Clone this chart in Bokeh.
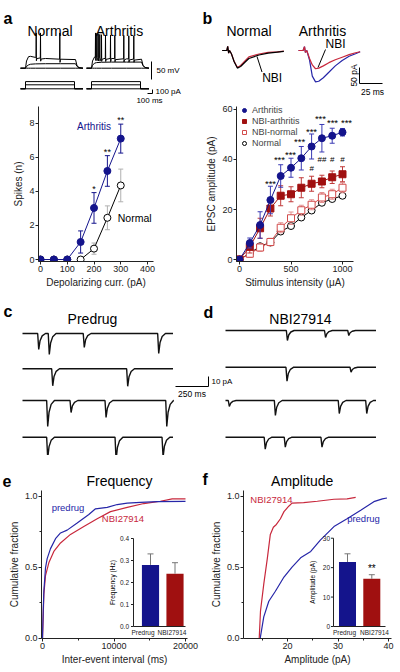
import numpy as np
from bokeh.plotting import figure
from bokeh.layouts import column, row
from bokeh.models import Range1d, Label, FixedTicker, NumeralTickFormatter, Legend, LegendItem
from bokeh.core.properties import value
from bokeh.embed import file_html
from bokeh.resources import INLINE

FONT = "Liberation Sans"
NAVY = "#14148c"
BLUE = "#2626a8"
DRED = "#a01010"
RED = "#c8283c"
LRED = "#d24b4b"

# ======================= DATA =======================
# (a) spikes vs depolarizing current
a_curr = [0, 50, 100, 150, 200, 250, 300]
a_arth = [0, 0, 0, 1.03, 3.03, 5.2, 7.1]
a_arth_err = [0, 0, 0, 0.65, 0.9, 0.9, 0.85]
a_norm = [0, 0, 0, 0, 0.64, 2.45, 4.35]
a_norm_err = [0, 0, 0, 0, 0.33, 0.7, 0.96]
a_sig_x = [200, 250, 300]
a_sig_txt = ["*", "**", "**"]
a_sig_y = [4.15, 6.3, 8.2]
a_xticks = [0, 100, 200, 300, 400]
a_yticks = [0, 2, 4, 6, 8]

# (a) example voltage / current traces (ms, mV, pA)
a_sweep_t = [-100, 0, 20, 60, 100, 200, 400, 700, 1000, 1030, 1070, 1150]
a_rest = [-65, -65, -65, -65, -65, -65, -65, -65, -65, -65, -65, -65]
a_norm_low = [-65, -65, -60, -56, -54, -53, -52.5, -52.5, -52.5, -60, -64, -65]
a_norm_high = [-65, -65, -45, -33, -32, -35, -38, -40, -41, -58, -63, -65]
a_arth_low = [-65, -65, -57, -51, -49.5, -48.5, -48, -48, -48, -58, -63, -65]
a_arth_high = [-65, -65, -45, -34, -35, -37, -38, -39, -40, -57, -63, -65]
a_norm_spk_t = [214, 300, 686]
a_norm_spk_v = [33, 33, 33]
a_arth_spk_t = [80, 106, 134, 166, 200, 280, 380, 466, 646, 746, 846]
a_arth_spk_v = [33, 32, 31, 29, 28, 27, 27, 26, 26, 25, 25]
a_step_t = [-100, 0, 0, 980, 980, 1150]
a_step_amp = [0, 100, 180]
a_bar_mv, a_bar_ms, a_bar_pa = 50, 100, 100

# (b) EPSC amplitude vs stimulus intensity
b_stim = [0, 100, 200, 300, 400, 500, 600, 700, 800, 900, 1000]
b_arth = [0, 6.6, 13.8, 23.8, 33.4, 36.7, 40.5, 45.2, 48.5, 49.5, 50.9]
b_arth_err = [0, 2, 5.3, 5.5, 4.5, 3.8, 4.7, 5, 5.5, 3, 1.5]
b_nbia = [0, 5.1, 12.5, 20.4, 25.5, 26.1, 28.7, 30.3, 31.2, 32.9, 34.1]
b_nbia_err = [0, 2.5, 4, 3, 4, 3, 4, 3, 2.5, 2.5, 3]
b_nbin = [0, 2.3, 4.8, 7.0, 12.7, 16.5, 19.7, 21.9, 24.8, 26.1, 28.7]
b_nbin_err = [0, 1.5, 1.5, 1.5, 2, 2.5, 2, 2, 2, 2, 2]
b_norm = [0, 2.5, 5.3, 6.8, 11.2, 13.4, 16.8, 19.6, 22.7, 24.2, 25.5]
b_norm_err = [0, 1, 1, 1, 1, 1, 1, 1, 1, 1, 1]
b_star_x = [301, 388, 495, 583, 699, 786, 903, 1039]
b_star_y = [30.2, 40.1, 42.0, 47.0, 51.2, 56.2, 54.6, 54.6]
b_hash_x = [700, 800, 900, 1000]
b_hash_txt = ["#", "##", "#", "#"]
b_hash_y = [36.3, 40.1, 40.1, 40.1]
b_xticks = [0, 500, 1000]
b_yticks = [0, 20, 40, 60]

# (b) example EPSCs (ms, pA)
b_norm_t = [0, 5, 6, 7, 8, 10, 13, 16.5, 20, 25, 29, 40, 50, 60, 67]
b_norm_i = [0, 0, 13, -8, 0, -10, -35, -55, -50, -36, -25, -14, -8, -5, -3]
b_norm_nbi_i = [0, 0, 13, -8, 0, -10, -34, -53, -47, -32, -20, -11, -6, -4, -2]
b_arth_t = [0, 5, 6.5, 7.5, 9, 12, 15, 18.5, 22, 27, 33, 40, 47.5, 55, 62, 67]
b_arth_i = [0, 0, 12, -6, 0, -30, -80, -98, -96, -85, -68, -48, -31, -18, -10, -4]
b_arth_nbi_i = [0, 0, 12, -6, 0, -25, -45, -57, -55, -48, -38, -29, -21, -13, -7, -4]
b_bar_pa, b_bar_ms = 50, 25

# (c) predrug sEPSC events: times (ms) and amplitudes (pA), one list per sweep
c1_t, c1_a = [119, 199, 464, 1028], [16, 21, 14, 20]
c2_t, c2_a = [225, 793], [17, 17.5]
c3_t, c3_a = [187, 364, 629, 1089], [26, 12, 17, 26]
c4_t, c4_a = [187, 705, 1061], [21, 23, 20]
# (d) NBI27914
d1_t, d1_a = [465, 754, 930], [10, 7, 5]
d2_t, d2_a = [462, 947], [14, 5]
d3_t, d3_a = [25, 374, 858, 1066], [6, 15, 13, 13]
d4_t, d4_a = [297, 449, 727], [12, 10, 10]
sweep_ms = 1140
cd_bar_ms, cd_bar_pa = 250, 10

# (e) inter-event interval CDF
e_pre_x = [0, 98, 190, 420, 653, 1120, 1820, 2520, 3450, 4850, 6480, 7410, 9050, 10450, 11850, 13700, 16040, 20000]
e_pre_y = [0, 0.19, 0.33, 0.495, 0.56, 0.63, 0.70, 0.74, 0.76, 0.81, 0.87, 0.91, 0.92, 0.94, 0.95, 0.955, 0.96, 0.962]
e_nbi_x = [0, 98, 190, 420, 885, 1585, 2520, 3915, 5780, 7650, 9510, 11850, 14170, 16500, 18140, 20000]
e_nbi_y = [0, 0.15, 0.31, 0.44, 0.53, 0.61, 0.67, 0.73, 0.785, 0.84, 0.89, 0.92, 0.947, 0.963, 0.98, 0.98]
e_bar_cats = ["Predrug", "NBI27914"]
e_bar_vals = [0.28, 0.24]
e_bar_err = [0.05, 0.05]
e_bar_ticks = [0, 0.1, 0.2, 0.3, 0.4]

# (f) amplitude CDF
f_pre_x = [14.6, 15.3, 16.3, 17.6, 19.3, 20.9, 22.6, 24.6, 26.5, 29.2, 31.8, 34.5, 37.1, 38.8, 39.7]
f_pre_y = [0, 0.15, 0.26, 0.33, 0.43, 0.50, 0.565, 0.61, 0.69, 0.785, 0.84, 0.90, 0.96, 0.98, 0.986]
f_nbi_x = [14.4, 14.65, 15.3, 16.0, 16.6, 17.2, 17.8, 18.6, 19.3, 20.3, 20.9, 23.2, 25.9, 29.2, 31.8, 33.5]
f_nbi_y = [0, 0.19, 0.38, 0.56, 0.73, 0.78, 0.80, 0.84, 0.89, 0.93, 0.95, 0.953, 0.963, 0.977, 0.98, 0.99]
f_bar_cats = ["Predrug", "NBI27914"]
f_bar_vals = [21.9, 16.2]
f_bar_err = [2.8, 1.4]
f_bar_ticks = [0, 10, 20, 30]


# ======================= HELPERS =======================
def lin_x(lo_px, hi_px, ref_px, ref_val, ppu):
    return (ref_val + (lo_px - ref_px) / ppu, ref_val + (hi_px - ref_px) / ppu)


def lin_y(top_px, bot_px, ref_px, ref_val, ppu):
    return (ref_val - (bot_px - ref_px) / ppu, ref_val + (ref_px - top_px) / ppu)


class PM:
    """page-pixel -> data converter for one frame"""
    def __init__(self, fl, ft, fr, fb, xr, yr):
        self.fl, self.ft, self.fr, self.fb, self.xr, self.yr = fl, ft, fr, fb, xr, yr

    def x(self, px):
        return self.xr[0] + (px - self.fl) * (self.xr[1] - self.xr[0]) / (self.fr - self.fl)

    def y(self, py):
        return self.yr[1] - (py - self.ft) * (self.yr[1] - self.yr[0]) / (self.fb - self.ft)


def bare(w, h, xr, yr):
    p = figure(width=w, height=h, x_range=Range1d(*xr), y_range=Range1d(*yr),
               toolbar_location=None, output_backend="svg", title=None,
               x_axis_location=None, y_axis_location=None, min_border=0)
    p.outline_line_color = None
    p.grid.visible = False
    return p


def chart(w, h, xr, yr, left, right, top, bottom):
    p = figure(width=w, height=h, x_range=Range1d(*xr), y_range=Range1d(*yr),
               toolbar_location=None, output_backend="svg", title=None,
               min_border_left=left, min_border_right=right,
               min_border_top=top, min_border_bottom=bottom)
    p.outline_line_color = None
    p.grid.visible = False
    for ax in p.axis:
        ax.axis_line_color = "#222222"
        ax.axis_line_width = 1
        ax.major_tick_line_color = "#222222"
        ax.minor_tick_line_color = "#222222"
        ax.major_tick_out = 3
        ax.major_tick_in = 0
        ax.minor_tick_out = 2
        ax.minor_tick_in = 0
        ax.major_label_text_font = FONT
        ax.major_label_text_font_size = "9px"
        ax.major_label_text_color = "#222222"
        ax.major_label_standoff = 1
        ax.axis_label_text_font = FONT
        ax.axis_label_text_font_size = "10px"
        ax.axis_label_text_font_style = "normal"
        ax.axis_label_text_color = "#222222"
        ax.axis_label_standoff = 2
    return p


def txt(p, x, y, s, size, color="black", align="center", baseline="middle",
        bold=False, angle=0.0, xr="default", yr="default"):
    p.add_layout(Label(x=x, y=y, text=s, text_font=FONT, text_font_size=f"{size}px",
                       text_color=color, text_align=align, text_baseline=baseline,
                       text_font_style="bold" if bold else "normal", angle=angle,
                       x_range_name=xr, y_range_name=yr))


def errbars(p, x, y, e, color, cap=5, both=True, **rn):
    xs = [xi for xi, ei in zip(x, e) if ei > 0]
    ys = [yi for yi, ei in zip(y, e) if ei > 0]
    hi = [yi + ei for yi, ei in zip(y, e) if ei > 0]
    lo = [yi - ei for yi, ei in zip(y, e) if ei > 0] if both else ys
    p.segment(x0=xs, y0=lo, x1=xs, y1=hi, line_color=color, line_width=1, **rn)
    p.scatter(x=xs, y=hi, marker="dash", size=cap, line_color=color, line_width=1, **rn)
    if both:
        p.scatter(x=xs, y=lo, marker="dash", size=cap, line_color=color, line_width=1, **rn)


def spiky(t, v, st, sv):
    pts = list(zip(t, v))
    for s, pk in zip(st, sv):
        b = float(np.interp(s, t, v))
        pts += [(s - 4, b), (s, pk), (s + 4, b - 9), (s + 12, b - 3)]
    pts.sort()
    return [q[0] for q in pts], [q[1] for q in pts]


def epsc(times, amps, length):
    xs, ys = [0], [0]
    for t, a in zip(times, amps):
        xs += [t - 4, t + 4, t + 14, t + 30, t + 55]
        ys += [0, -a, -0.45 * a, -0.15 * a, 0]
    xs.append(length)
    ys.append(0)
    return xs, ys


# ======================= TOP ROW: traces of a and b =======================
TT = (0, 0, 400, 104)
a_xr = lin_x(TT[0], TT[2], 25, 0, 0.05)
a_yr = lin_y(TT[1], TT[3], 67.7, -65, 1 / 2.78)
a_ir = lin_y(TT[1], TT[3], 88.3, 0, 1 / 25)
b_xr = lin_x(TT[0], TT[2], 221.7, 0, 0.92)
b_yr = lin_y(TT[1], TT[3], 50, 0, 0.32)
ptop = bare(400, 104, a_xr, a_yr)
ptop.extra_y_ranges = {"cur": Range1d(*a_ir), "by": Range1d(*b_yr)}
ptop.extra_x_ranges = {"bx": Range1d(*b_xr)}
pm = PM(*TT, a_xr, a_yr)
pmi = PM(*TT, a_xr, a_ir)
pmb = PM(*TT, b_xr, b_yr)
A_OFF = pm.x(91) - pm.x(25)
B_OFF = pmb.x(298) - pmb.x(221.7)
BR = dict(x_range_name="bx", y_range_name="by")

for off, low, high, st, sv in [(0, a_norm_low, a_norm_high, a_norm_spk_t, a_norm_spk_v),
                               (A_OFF, a_arth_low, a_arth_high, a_arth_spk_t, a_arth_spk_v)]:
    tt = [t + off for t in a_sweep_t]
    ptop.line(tt, a_rest, line_color="black", line_width=1)
    ptop.line(tt, low, line_color="black", line_width=1)
    hx, hy = spiky(a_sweep_t, high, st, sv)
    ptop.line([t + off for t in hx], hy, line_color="black", line_width=1)
    for amp in a_step_amp:
        ptop.line([t + off for t in a_step_t], [0, 0, amp, amp, 0, 0],
                  line_color="black", line_width=1, y_range_name="cur")

sbx = pm.x(151)
sby = pm.y(79)
ptop.line([sbx, sbx], [sby, sby + a_bar_mv], line_color="black", line_width=1)
txt(ptop, pm.x(156), sby + a_bar_mv / 2, "50 mV", 8, align="left")
cx = pm.x(152)
cy = pmi.y(93)
ptop.line([cx - a_bar_ms, cx, cx], [cy, cy, cy + a_bar_pa], line_color="black",
          line_width=1, y_range_name="cur")
txt(ptop, pm.x(155), pm.y(91), "100 pA", 8, align="left")
txt(ptop, pm.x(149), pm.y(99.5), "100 ms", 8)
txt(ptop, pm.x(49.5), pm.y(30), "Normal", 14, baseline="alphabetic")
txt(ptop, pm.x(119), pm.y(30), "Arthritis", 14, baseline="alphabetic")
txt(ptop, pm.x(3), pm.y(18), "a", 16, align="left", baseline="alphabetic", bold=True)

ptop.line(b_norm_t, b_norm_nbi_i, line_color=RED, line_width=1.2, **BR)
ptop.line(b_norm_t, b_norm_i, line_color="black", line_width=1.2, **BR)
ptop.line([t + B_OFF for t in b_arth_t], b_arth_i, line_color=BLUE, line_width=1.2, **BR)
ptop.line([t + B_OFF for t in b_arth_t], b_arth_nbi_i, line_color=RED, line_width=1.2, **BR)
bx = pmb.x(359)
by = pmb.y(83)
ptop.line([bx, bx, bx + b_bar_ms], [by + b_bar_pa, by, by], line_color="black", line_width=1, **BR)
txt(ptop, pmb.x(353), by + b_bar_pa / 2, "50 pA", 8.5, angle=np.pi / 2, xr="bx", yr="by")
txt(ptop, pmb.x(372), pmb.y(91), "25 ms", 8.5, xr="bx", yr="by")
ptop.line([pmb.x(256.5), pmb.x(261.5)], [pmb.y(56), pmb.y(71.5)], line_color="black", line_width=1, **BR)
txt(ptop, pmb.x(271.7), pmb.y(77), "NBI", 12, xr="bx", yr="by")
ptop.line([pmb.x(325), pmb.x(317.5)], [pmb.y(49), pmb.y(67)], line_color="black", line_width=1, **BR)
txt(ptop, pmb.x(335), pmb.y(43.3), "NBI", 12, xr="bx", yr="by")
txt(ptop, pmb.x(248.5), pmb.y(30), "Normal", 14, baseline="alphabetic", xr="bx", yr="by")
txt(ptop, pmb.x(322), pmb.y(30), "Arthritis", 14, baseline="alphabetic", xr="bx", yr="by")
txt(ptop, pmb.x(202), pmb.y(18), "b", 16, align="left", baseline="alphabetic", bold=True,
    xr="bx", yr="by")

# ======================= PANEL a: chart =======================
ac_xr = lin_x(38, 153, 40, 0, 0.2675)
ac_yr = lin_y(105, 262, 260, 0, 17.25)
pa = chart(200, 186, ac_xr, ac_yr, 38, 47, 1, 28)
pa.xaxis.ticker = FixedTicker(ticks=a_xticks, minor_ticks=[])
pa.yaxis.ticker = FixedTicker(ticks=a_yticks, minor_ticks=[])
pa.xaxis.axis_label = "Depolarizing curr. (pA)"
pa.yaxis.axis_label = "Spikes (n)"
errbars(pa, a_curr, a_norm, a_norm_err, "#b0b0b0", cap=5)
pa.line(a_curr[3:], a_norm[3:], line_color="black", line_width=1)
pa.scatter(a_curr, a_norm, marker="circle", size=7, fill_color="white", line_color="black")
errbars(pa, a_curr, a_arth, a_arth_err, NAVY, cap=5)
pa.line(a_curr, a_arth, line_color=NAVY, line_width=1)
pa.scatter(a_curr, a_arth, marker="circle", size=7, fill_color=NAVY, line_color=NAVY)
for xs, ys, s in zip(a_sig_x, a_sig_y, a_sig_txt):
    txt(pa, xs, ys, s, 9)
txt(pa, 200, 7.83, "Arthritis", 10, color=NAVY)
txt(pa, 352, 2.43, "Normal", 10.5)

# ======================= PANEL b: chart =======================
bc_xr = lin_x(236, 353, 239, 0, 0.103)
bc_yr = lin_y(106, 262, 260, 0, (260 - 109) / 60)
pb = chart(200, 186, bc_xr, bc_yr, 36, 47, 2, 28)
pb.xaxis.ticker = FixedTicker(ticks=b_xticks, minor_ticks=[])
pb.yaxis.ticker = FixedTicker(ticks=b_yticks, minor_ticks=[])
pb.xaxis.axis_label = "Stimulus intensity (\u03bcA)"
pb.yaxis.axis_label = "EPSC amplitude (pA)"

errbars(pb, b_stim, b_norm, b_norm_err, "#999999", cap=5)
pb.line(b_stim, b_norm, line_color="black", line_width=1)
r_norm = pb.scatter(b_stim, b_norm, marker="circle", size=7, fill_color="white", line_color="black")
errbars(pb, b_stim, b_nbin, b_nbin_err, "#e29090", cap=5)
pb.line(b_stim, b_nbin, line_color=LRED, line_width=1)
r_nbin = pb.scatter(b_stim, b_nbin, marker="square", size=7, fill_color="white", line_color=LRED)
errbars(pb, b_stim, b_nbia, b_nbia_err, "#c03a3a", cap=5)
pb.line(b_stim, b_nbia, line_color=DRED, line_width=1)
r_nbia = pb.scatter(b_stim, b_nbia, marker="square", size=7, fill_color=DRED, line_color=DRED)
errbars(pb, b_stim, b_arth, b_arth_err, "#3a3ab4", cap=5)
pb.line(b_stim, b_arth, line_color=NAVY, line_width=1)
r_arth = pb.scatter(b_stim, b_arth, marker="circle", size=7, fill_color=NAVY, line_color=NAVY)
for xs, ys in zip(b_star_x, b_star_y):
    txt(pb, xs, ys, "***", 9.5)
for xs, ys, s in zip(b_hash_x, b_hash_y, b_hash_txt):
    txt(pb, xs, ys, s, 8)
leg = Legend(items=[LegendItem(label="Arthritis", renderers=[r_arth]),
                    LegendItem(label="NBI-arthritis", renderers=[r_nbia]),
                    LegendItem(label="NBI-normal", renderers=[r_nbin]),
                    LegendItem(label="Normal", renderers=[r_norm])],
             location=(3, 156 - 43), label_text_font=FONT, label_text_font_size="9px",
             glyph_width=10, glyph_height=10, label_height=10, spacing=1,
             padding=0, margin=0, label_standoff=3, border_line_color=None,
             background_fill_alpha=0)
pb.add_layout(leg)

# ======================= PANELS c, d: traces =======================
CD = (0, 290, 400, 455)
cd_xr = lin_x(CD[0], CD[2], 22, 0, 0.132)
cd_yr = lin_y(CD[1], CD[3], 290, 0, 1.0)
pcd = bare(400, 165, cd_xr, cd_yr)
pmc = PM(*CD, cd_xr, cd_yr)
c_rows = [333, 368.3, 400, 436.7]
d_rows = [330, 366.7, 400, 436.7]
D_OFF = pmc.x(225) - pmc.x(22)
for (tt, aa), ry in zip([(c1_t, c1_a), (c2_t, c2_a), (c3_t, c3_a), (c4_t, c4_a)], c_rows):
    xs, ys = epsc(tt, aa, sweep_ms)
    base = pmc.y(ry)
    pcd.line(xs, [v + base for v in ys], line_color="#111111", line_width=1.4)
for (tt, aa), ry in zip([(d1_t, d1_a), (d2_t, d2_a), (d3_t, d3_a), (d4_t, d4_a)], d_rows):
    xs, ys = epsc(tt, aa, sweep_ms)
    base = pmc.y(ry)
    pcd.line([x + D_OFF for x in xs], [v + base for v in ys], line_color="#111111", line_width=1.4)
sx0 = pmc.x(175)
sy0 = pmc.y(386)
pcd.line([sx0, sx0 + cd_bar_ms, sx0 + cd_bar_ms], [sy0, sy0, sy0 + cd_bar_pa],
         line_color="black", line_width=1)
txt(pcd, pmc.x(211), pmc.y(381), "10 pA", 8, align="left")
txt(pcd, sx0 + cd_bar_ms / 2, pmc.y(393), "250 ms", 8.5)
txt(pcd, pmc.x(92), pmc.y(318), "Predrug", 14, baseline="alphabetic")
txt(pcd, pmc.x(300), pmc.y(318), "NBI27914", 14, baseline="alphabetic")
txt(pcd, pmc.x(3), pmc.y(311), "c", 16, align="left", baseline="alphabetic", bold=True)
txt(pcd, pmc.x(203), pmc.y(312), "d", 16, align="left", baseline="alphabetic", bold=True)

# ======================= header of e, f =======================
HD = (0, 455, 400, 490)
phd = bare(400, 35, (0, 400), (0, 35))
pmh = PM(*HD, (0, 400), (0, 35))
txt(phd, pmh.x(119), pmh.y(480), "Frequency", 14, baseline="alphabetic")
txt(phd, pmh.x(301.7), pmh.y(480.5), "Amplitude", 14, baseline="alphabetic")
txt(phd, pmh.x(2), pmh.y(480), "e", 16, align="left", baseline="alphabetic", bold=True)
txt(phd, pmh.x(202), pmh.y(479), "f", 16, align="left", baseline="alphabetic", bold=True)


# ======================= PANELS e, f =======================
def inset(p, pmi_, ax_px, end_px, cats, vals, errs, ticks, tick_fmt, ylabel,
          ylab_px, cat_px, tick_px_right):
    rn = dict(x_range_name="ix", y_range_name="iy")
    ax = pmi_.x(ax_px)
    p.vbar(x=[1, 2], top=vals, width=0.7, fill_color=[NAVY, DRED], line_color=None, **rn)
    errbars(p, [1, 2], vals, errs, "#777777", cap=6, both=False, **rn)
    p.segment(x0=[ax], y0=[ticks[0]], x1=[ax], y1=[ticks[-1]], line_color="#222222", line_width=1, **rn)
    tl = pmi_.x(ax_px) - pmi_.x(ax_px - 2.5)
    p.segment(x0=[ax] * len(ticks), y0=ticks, x1=[ax - tl] * len(ticks), y1=ticks,
              line_color="#222222", line_width=1, **rn)
    p.segment(x0=[ax], y0=[0], x1=[pmi_.x(end_px)], y1=[0], line_color="#222222", line_width=1, **rn)
    p.text(x=[pmi_.x(tick_px_right)] * len(ticks), y=ticks, text=[tick_fmt(t) for t in ticks],
           text_font=value(FONT), text_font_size="6.5px", text_align="right",
           text_baseline="middle", text_color="#222222", **rn)
    p.text(x=[pmi_.x(c) for c in cat_px], y=[pmi_.y(628.5)] * 2, text=cats,
           text_font=value(FONT), text_font_size="6.5px", text_align="center",
           text_baseline="top", text_color="#222222", **rn)
    txt(p, pmi_.x(ylab_px), (ticks[0] + ticks[-1]) / 2, ylabel, 6.5, angle=np.pi / 2,
        xr="ix", yr="iy")


EF = (41, 490, 187, 638)
e_xr = lin_x(EF[0], EF[2], 42, 0, 0.00715)
e_yr = lin_y(EF[1], EF[3], 637.7, 0, 142.2)
pe = chart(200, 182, e_xr, e_yr, 41, 13, 0, 34)
pe.xaxis.ticker = FixedTicker(ticks=[0, 10000, 20000], minor_ticks=[5000, 15000])
pe.yaxis.ticker = FixedTicker(ticks=[0, 0.5, 1.0], minor_ticks=[0.25, 0.75])
pe.xaxis.formatter = NumeralTickFormatter(format="0")
pe.yaxis.formatter = NumeralTickFormatter(format="0.0")
pe.xaxis.axis_label = "Inter-event interval (ms)"
pe.yaxis.axis_label = "Cumulative fraction"
pme = PM(*EF, e_xr, e_yr)
e_ix = lin_x(EF[0], EF[2], 150, 1, 24.5)
e_iy = lin_y(EF[1], EF[3], 626, 0, 220)
pe.extra_x_ranges = {"ix": Range1d(*e_ix)}
pe.extra_y_ranges = {"iy": Range1d(*e_iy)}
pme_i = PM(*EF, e_ix, e_iy)
pe.line(e_nbi_x, e_nbi_y, line_color=RED, line_width=1.2)
pe.line(e_pre_x, e_pre_y, line_color=BLUE, line_width=1.2)
txt(pe, pme.x(67.5), pme.y(506.7), "predrug", 9.5, color=BLUE)
txt(pe, pme.x(122.5), pme.y(518.3), "NBI27914", 9.5, color=RED)
inset(pe, pme_i, 133, 185, e_bar_cats, e_bar_vals, e_bar_err, e_bar_ticks,
      lambda t: f"{t:.1f}", "Frequency (Hz)", 111.7, [142.5, 171.5], 128.5)

FF = (243, 490, 391, 638)
f_xr = lin_x(FF[0], FF[2], 287, 20, 5.05)
f_yr = lin_y(FF[1], FF[3], 637.7, 0, 142.2)
pf = chart(200, 182, f_xr, f_yr, 43, 9, 0, 34)
pf.xaxis.ticker = FixedTicker(ticks=[20, 30, 40], minor_ticks=[15, 25, 35])
pf.yaxis.ticker = FixedTicker(ticks=[0, 0.5, 1.0], minor_ticks=[0.25, 0.75])
pf.yaxis.formatter = NumeralTickFormatter(format="0.0")
pf.xaxis.axis_label = "Amplitude (pA)"
pf.yaxis.axis_label = "Cumulative fraction"
pmf = PM(*FF, f_xr, f_yr)
f_ix = lin_x(FF[0], FF[2], 347, 1, 24.3)
f_iy = lin_y(FF[1], FF[3], 626, 0, 2.943)
pf.extra_x_ranges = {"ix": Range1d(*f_ix)}
pf.extra_y_ranges = {"iy": Range1d(*f_iy)}
pmf_i = PM(*FF, f_ix, f_iy)
pf.line(f_pre_x, f_pre_y, line_color=BLUE, line_width=1.2)
pf.line(f_nbi_x, f_nbi_y, line_color=RED, line_width=1.2)
txt(pf, pmf.x(271), pmf.y(499.3), "NBI27914", 9.5, color=RED)
txt(pf, pmf.x(363), pmf.y(518.3), "predrug", 9.5, color=BLUE)
inset(pf, pmf_i, 333, 385, f_bar_cats, f_bar_vals, f_bar_err, f_bar_ticks,
      lambda t: f"{t:.0f}", "Amplitude (pA)", 311.7, [344, 374], 329.5)
txt(pf, 2, f_bar_vals[1] + f_bar_err[1] + 2.2, "**", 10, xr="ix", yr="iy")

layout = column(ptop, row(pa, pb), pcd, phd, row(pe, pf))
open("out.html", "w").write(file_html(layout, INLINE))
